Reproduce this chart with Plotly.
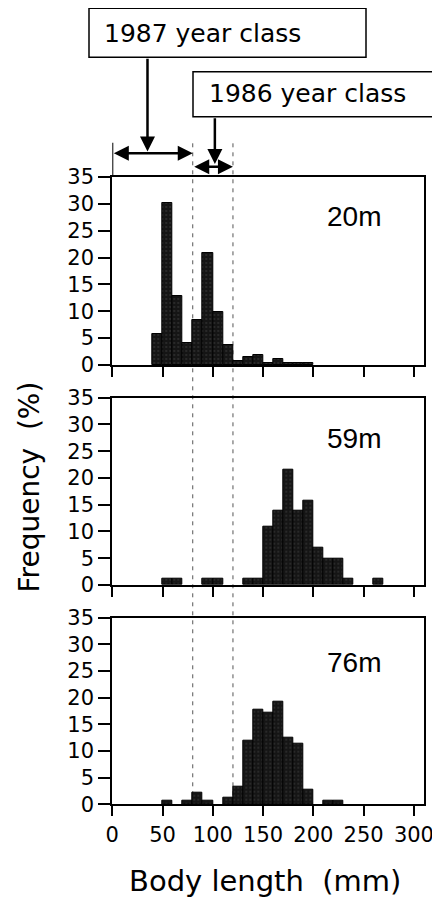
import plotly.graph_objects as go

# ---------------- data ----------------
bin_lower = [40, 50, 60, 70, 80, 90, 100, 110, 120, 130, 140, 150,
             160, 170, 180, 190, 200, 210, 220, 230, 240, 250, 260, 270]
freq_20m = [5.8, 30.1, 12.9, 4.1, 8.3, 20.9, 9.9, 3.7, 0.8, 1.55, 1.85, 0.45,
            1.05, 0.45, 0.45, 0.45, 0, 0, 0, 0, 0, 0, 0, 0]
freq_59m = [0, 1.1, 1.1, 0, 0, 1.1, 1.1, 0, 0, 1.1, 1.1, 10.9,
            13.8, 21.6, 13.8, 15.8, 6.9, 5.0, 5.0, 1.1, 0, 0, 1.1, 0]
freq_76m = [0, 0.7, 0, 0.7, 2.2, 0.7, 0, 1.3, 3.3, 11.9, 17.7, 17.2,
            19.25, 12.4, 11.3, 2.8, 0, 0.7, 0.7, 0, 0, 0, 0, 0]
depth_labels = ["20m", "59m", "76m"]
x_ticks = [0, 50, 100, 150, 200, 250, 300]
y_ticks = [0, 5, 10, 15, 20, 25, 30, 35]
class_1987 = [0, 80]     # mm range of 1987 year class
class_1986 = [80, 120]   # mm range of 1986 year class
bin_width = 10

# page body has an 8px margin: the figure is placed at (8, 8) in the window
OFF = 8
W, H = 440 - OFF, 899 - OFF
def px(x):
    return (x - OFF) / W
def py(y):
    return 1 - (y - OFF) / H

# panel pixel extents (top, bottom) in window coordinates
panels = [(177, 365), (397.7, 585), (617.7, 804.3)]
xdom = [px(112.3), px(424)]
XR = [0, 310]
YR = [0, 35]

fig = go.Figure()
for i, freq in enumerate([freq_20m, freq_59m, freq_76m]):
    sfx = "" if i == 0 else str(i + 1)
    xs = [b + bin_width / 2 for b, f in zip(bin_lower, freq) if f > 0]
    ys = [f for f in freq if f > 0]
    fig.add_trace(go.Bar(
        x=xs, y=ys, width=bin_width,
        xaxis="x" + sfx, yaxis="y" + sfx,
        marker=dict(color="#151515",
                    line=dict(color="black", width=1),
                    pattern=dict(shape=".", fgcolor="#7a7a7a", bgcolor="#151515",
                                 size=4, solidity=0.1)),
        showlegend=False, hoverinfo="skip"))

layout = dict(width=W, height=H,
              margin=dict(l=0, r=0, t=0, b=0, pad=0, autoexpand=False),
              paper_bgcolor="white", plot_bgcolor="rgba(0,0,0,0)", bargap=0,
              showlegend=False,
              font=dict(family="DejaVu Sans", color="black"))
for i, (top, bot) in enumerate(panels):
    sfx = "" if i == 0 else str(i + 1)
    layout["xaxis" + sfx] = dict(
        domain=xdom, range=XR, anchor="y" + sfx, automargin=False,
        tickvals=x_ticks, showticklabels=(i == 2),
        ticks="outside", ticklen=10, tickwidth=1.5, tickcolor="black",
        showline=True, linecolor="black", linewidth=2, mirror=True,
        showgrid=False, zeroline=False,
        tickfont=dict(family="DejaVu Sans", size=21, color="black"))
    layout["yaxis" + sfx] = dict(
        domain=[py(bot), py(top)], range=YR, anchor="x" + sfx, automargin=False,
        tickvals=y_ticks, ticks="outside", ticklen=12, tickwidth=1.5,
        tickcolor="black", showline=True, linecolor="black", linewidth=2,
        mirror=True, showgrid=False, zeroline=False,
        tickfont=dict(family="DejaVu Sans", size=21, color="black"))
fig.update_layout(**layout)

shapes = []
# dashed class boundaries through all panels
for xv in [class_1987[1], class_1986[1]]:
    shapes.append(dict(type="line", xref="x", yref="paper", x0=xv, x1=xv,
                       y0=py(804.3), y1=py(143), layer="below",
                       line=dict(color="#555", width=1, dash="4px,5px")))
# left end bar of 1987 arrow
shapes.append(dict(type="line", xref="x", yref="paper", x0=class_1987[0], x1=class_1987[0],
                   y0=py(177), y1=py(142.7), line=dict(color="black", width=2)))
# label boxes
shapes.append(dict(type="rect", xref="paper", yref="paper",
                   x0=px(89), x1=px(366), y0=py(57.3), y1=py(8.3),
                   line=dict(color="black", width=1.5)))
shapes.append(dict(type="rect", xref="paper", yref="paper",
                   x0=px(193), x1=px(446), y0=py(116.7), y1=py(71.7),
                   line=dict(color="black", width=1.5)))
fig.update_layout(shapes=shapes)

ann = []
# panel labels
for lab, ycen in zip(depth_labels, [216, 438, 662]):
    ann.append(dict(text=lab, xref="paper", yref="paper", x=px(354), y=py(ycen),
                    showarrow=False, xanchor="center", yanchor="middle",
                    font=dict(family="Liberation Sans", size=28, color="black")))
# box texts
ann.append(dict(text="1987 year class", xref="paper", yref="paper", x=px(102), y=py(34),
                showarrow=False, xanchor="left", yanchor="middle",
                font=dict(family="DejaVu Sans", size=25, color="black")))
ann.append(dict(text="1986 year class", xref="paper", yref="paper", x=px(207), y=py(93),
                showarrow=False, xanchor="left", yanchor="middle",
                font=dict(family="DejaVu Sans", size=25, color="black")))
# axis titles
ann.append(dict(text="Body length  (mm)", xref="paper", yref="paper", x=px(265), y=py(881),
                showarrow=False, xanchor="center", yanchor="middle",
                font=dict(family="DejaVu Sans", size=29, color="black")))
ann.append(dict(text="Frequency  (%)", xref="paper", yref="paper", x=px(29), y=py(487.5),
                showarrow=False, xanchor="center", yanchor="middle", textangle=-90,
                font=dict(family="DejaVu Sans", size=28, color="black")))
# arrows
arrow_style = dict(showarrow=True, arrowhead=2, arrowsize=1.2, arrowwidth=2.5,
                   arrowcolor="black", text="", xref="x", yref="paper", axref="x",
                   ayref="pixel", standoff=0, startstandoff=0)
ann.append(dict(x=class_1987[1], y=py(153.3), ax=class_1987[0], ay=0,
                arrowside="end+start", **arrow_style))
ann.append(dict(x=class_1986[1], y=py(166.7), ax=class_1986[0], ay=0,
                arrowside="end+start", **arrow_style))
ann.append(dict(x=35, y=py(151.5), ax=35, ay=57.3 - 151.5, arrowside="end", **arrow_style))
ann.append(dict(x=102, y=py(164), ax=102, ay=116.7 - 164, arrowside="end", **arrow_style))
fig.update_layout(annotations=ann)

fig.write_html("out.html")
